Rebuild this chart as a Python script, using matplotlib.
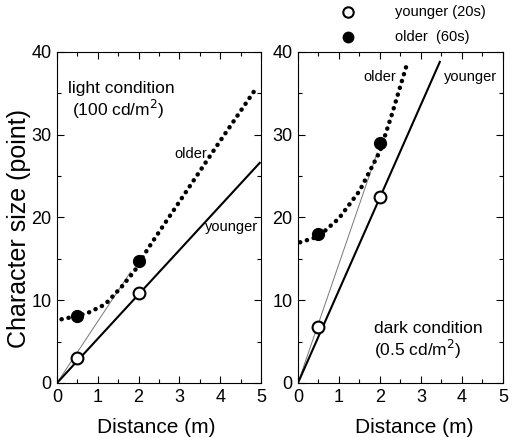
import matplotlib
matplotlib.use("Agg")
import matplotlib.pyplot as plt
from matplotlib.ticker import MultipleLocator

plt.rcParams['font.family'] = ['Liberation Sans', 'DejaVu Sans']

# ---- data ----
dist_pts = [0.5, 2.0]

# light condition
light_young = [3.0, 10.9]
light_old = [8.1, 14.7]
light_young_fit_x = [0.0, 4.97]
light_young_fit_y = [0.0, 26.6]
light_old_curve_x = [0.11, 0.5, 0.77, 1.18, 1.58, 1.91, 2.2, 2.4, 3.0, 3.91, 4.88]
light_old_curve_y = [7.7, 8.1, 8.5, 9.5, 11.6, 13.6, 16.0, 17.5, 21.9, 28.6, 35.6]
light_thin_x = [0.0, 1.8]
light_thin_y = [0.0, 13.4]

# dark condition
dark_young = [6.8, 22.5]
dark_old = [18.0, 29.0]
dark_young_fit_x = [0.0, 3.46]
dark_young_fit_y = [0.0, 38.8]
dark_old_curve_x = [0.05, 0.5, 1.0, 1.5, 2.0, 2.3, 2.65]
dark_old_curve_y = [17.0, 17.7, 19.9, 23.2, 28.0, 32.6, 38.4]
dark_thin_x = [0.0, 1.93]
dark_thin_y = [0.0, 27.8]

fig = plt.figure(figsize=(5.15, 4.38), dpi=100)
ax1 = fig.add_axes([0.1107, 0.1256, 0.396, 0.7557])
ax2 = fig.add_axes([0.5786, 0.1256, 0.398, 0.7557])

dot_style = dict(color='black', lw=3.2, linestyle=(0, (0.05, 1.55)),
                 dash_capstyle='round', zorder=2)


def draw_panel(ax, young, old, yfx, yfy, ocx, ocy, tx, ty, xlab_pos):
    ax.plot(tx, ty, color='#777777', lw=0.7, zorder=1)
    ax.plot(yfx, yfy, color='black', lw=1.5, zorder=2)
    ax.plot(ocx, ocy, **dot_style)
    ax.plot(dist_pts, young, 'o', ms=8.5, mfc='white', mec='black',
            mew=1.5, zorder=3)
    ax.plot(dist_pts, old, 'o', ms=8.5, mfc='black', mec='black', zorder=3)
    ax.set_xlim(0, 5)
    ax.set_ylim(0, 40)
    ax.xaxis.set_major_locator(MultipleLocator(1))
    ax.xaxis.set_minor_locator(MultipleLocator(0.5))
    ax.yaxis.set_major_locator(MultipleLocator(10))
    ax.yaxis.set_minor_locator(MultipleLocator(5))
    ax.tick_params(which='both', direction='in', top=True, right=True,
                   labelsize=13, width=0.8)
    ax.tick_params(which='major', length=5, pad=4)
    ax.tick_params(which='minor', length=3)
    for s in ax.spines.values():
        s.set_linewidth(0.8)
    ax.set_xlabel('Distance (m)', fontsize=15)
    ax.xaxis.set_label_coords(xlab_pos, -0.105)


draw_panel(ax1, light_young, light_old, light_young_fit_x, light_young_fit_y,
           light_old_curve_x, light_old_curve_y, light_thin_x, light_thin_y,
           0.485)
draw_panel(ax2, dark_young, dark_old, dark_young_fit_x, dark_young_fit_y,
           dark_old_curve_x, dark_old_curve_y, dark_thin_x, dark_thin_y,
           0.566)

fig.text(19 / 515, 1 - 229 / 438, 'Character size (point)', fontsize=18,
         rotation=90, ha='center', va='center')

ax1.text(0.28, 35.6, 'light condition', fontsize=12.5, va='center')
ax1.text(0.36, 33.0, '(100 cd/m$^2$)', fontsize=12.5, va='center')
ax1.text(2.88, 27.7, 'older', fontsize=10.5, va='center')
ax1.text(3.62, 18.9, 'younger', fontsize=10.5, va='center')

ax2.text(1.6, 37.0, 'older', fontsize=10.5, va='center')
ax2.text(3.55, 37.0, 'younger', fontsize=10.5, va='center')
ax2.text(1.85, 6.6, 'dark condition', fontsize=12.5, va='center')
ax2.text(1.85, 4.1, '(0.5 cd/m$^2$)', fontsize=12.5, va='center')

# legend above the right panel
fig.lines.append(plt.Line2D([348 / 515], [1 - 12 / 438], marker='o', ms=7.5,
                            mfc='white', mec='black', mew=1.5,
                            transform=fig.transFigure))
fig.lines.append(plt.Line2D([348 / 515], [1 - 37 / 438], marker='o', ms=7.5,
                            mfc='black', mec='black',
                            transform=fig.transFigure))
fig.text(395 / 515, 1 - 12 / 438, 'younger (20s)', fontsize=10.5, va='center')
fig.text(395 / 515, 1 - 37 / 438, 'older  (60s)', fontsize=10.5, va='center')

fig.savefig('out.png', dpi=100)
